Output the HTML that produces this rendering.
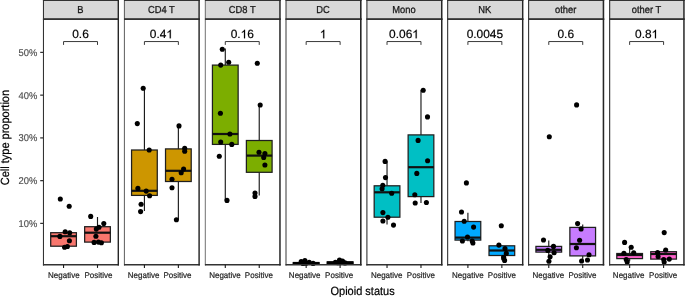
<!DOCTYPE html><html><head><meta charset="utf-8"><style>html,body{margin:0;padding:0;background:#fff;overflow:hidden;}svg{display:block;will-change:transform;}text{font-family:"Liberation Sans",sans-serif;text-rendering:geometricPrecision;}</style></head><body>
<svg width="685" height="297" viewBox="0 0 685 297">
<rect x="0" y="0" width="685" height="297" fill="#fff"/>
<line x1="40.2" x2="43.5" y1="223.4" y2="223.4" stroke="#333" stroke-width="1.25"/>
<text transform="translate(37.3 226.8) scale(1 1.05)" font-size="9.4" fill="#4D4D4D" text-anchor="end" stroke="#4D4D4D" stroke-width="0.15">10%</text>
<line x1="40.2" x2="43.5" y1="180.65" y2="180.65" stroke="#333" stroke-width="1.25"/>
<text transform="translate(37.3 184.05) scale(1 1.05)" font-size="9.4" fill="#4D4D4D" text-anchor="end" stroke="#4D4D4D" stroke-width="0.15">20%</text>
<line x1="40.2" x2="43.5" y1="137.9" y2="137.9" stroke="#333" stroke-width="1.25"/>
<text transform="translate(37.3 141.3) scale(1 1.05)" font-size="9.4" fill="#4D4D4D" text-anchor="end" stroke="#4D4D4D" stroke-width="0.15">30%</text>
<line x1="40.2" x2="43.5" y1="95.15" y2="95.15" stroke="#333" stroke-width="1.25"/>
<text transform="translate(37.3 98.55) scale(1 1.05)" font-size="9.4" fill="#4D4D4D" text-anchor="end" stroke="#4D4D4D" stroke-width="0.15">40%</text>
<line x1="40.2" x2="43.5" y1="52.4" y2="52.4" stroke="#333" stroke-width="1.25"/>
<text transform="translate(37.3 55.8) scale(1 1.05)" font-size="9.4" fill="#4D4D4D" text-anchor="end" stroke="#4D4D4D" stroke-width="0.15">50%</text>
<rect x="43.47" y="0.4" width="74.83" height="18.5" fill="#D9D9D9"/>
<text transform="translate(80.44 12.95) scale(1 1.078)" font-size="9.35" fill="#1A1A1A" text-anchor="middle" stroke="#1A1A1A" stroke-width="0.27">B</text>
<rect x="43.5" y="19.4" width="74.68" height="245.4" fill="#fff"/>
<line x1="63.55" x2="63.55" y1="231.3" y2="232.7" stroke="#1a1a1a" stroke-width="1.15"/>
<line x1="63.55" x2="63.55" y1="246.2" y2="247.3" stroke="#1a1a1a" stroke-width="1.15"/>
<rect x="50.7" y="232.7" width="25.7" height="13.5" fill="#F8766D" stroke="#1f1f1f" stroke-width="1.25"/>
<line x1="50.7" x2="76.4" y1="236.2" y2="236.2" stroke="#111" stroke-width="2.2"/>
<line x1="97.5" x2="97.5" y1="217" y2="226.7" stroke="#1a1a1a" stroke-width="1.15"/>
<line x1="97.5" x2="97.5" y1="242.1" y2="242.8" stroke="#1a1a1a" stroke-width="1.15"/>
<rect x="84.65" y="226.7" width="25.7" height="15.4" fill="#F8766D" stroke="#1f1f1f" stroke-width="1.25"/>
<line x1="84.65" x2="110.35" y1="232.7" y2="232.7" stroke="#111" stroke-width="2.2"/>
<circle cx="60.3" cy="199" r="2.55" fill="#000"/>
<circle cx="69.2" cy="206.3" r="2.55" fill="#000"/>
<circle cx="59.9" cy="236.4" r="2.55" fill="#000"/>
<circle cx="65.2" cy="231.7" r="2.55" fill="#000"/>
<circle cx="69.7" cy="232.7" r="2.55" fill="#000"/>
<circle cx="69.4" cy="240.8" r="2.55" fill="#000"/>
<circle cx="64.6" cy="247.3" r="2.55" fill="#000"/>
<circle cx="67.4" cy="246.5" r="2.55" fill="#000"/>
<circle cx="90.7" cy="216.4" r="2.55" fill="#000"/>
<circle cx="103.8" cy="223.6" r="2.55" fill="#000"/>
<circle cx="99" cy="227.3" r="2.55" fill="#000"/>
<circle cx="96.3" cy="229.1" r="2.55" fill="#000"/>
<circle cx="95.9" cy="236.3" r="2.55" fill="#000"/>
<circle cx="94.1" cy="242.4" r="2.55" fill="#000"/>
<circle cx="98.4" cy="242.1" r="2.55" fill="#000"/>
<circle cx="101.4" cy="242.8" r="2.55" fill="#000"/>
<path d="M63.55 44.9V41.55H97.5V44.9" fill="none" stroke="#3a3a3a" stroke-width="1.0"/>
<text x="72.25" y="38.3" font-size="11.9" fill="#000" stroke="#000" stroke-width="0.2">0.6</text>
<line x1="42.94" x2="119" y1="0.4" y2="0.4" stroke="#333" stroke-width="1.2"/>
<line x1="42.94" x2="119" y1="18.9" y2="18.9" stroke="#333" stroke-width="1.2"/>
<line x1="42.94" x2="119" y1="19.4" y2="19.4" stroke="#333" stroke-width="1.2"/>
<line x1="42.94" x2="119" y1="264.8" y2="264.8" stroke="#333" stroke-width="1.4"/>
<line x1="43.47" x2="43.47" y1="-0.2" y2="265.5" stroke="#333" stroke-width="1.07"/>
<line x1="118.3" x2="118.3" y1="-0.2" y2="265.5" stroke="#262626" stroke-width="1.4"/>
<line x1="63.55" x2="63.55" y1="264.8" y2="267.9" stroke="#1a1a1a" stroke-width="1.1"/>
<text transform="translate(63.8 277.5) scale(1 1.04)" font-size="8.0" fill="#262626" text-anchor="middle" stroke="#262626" stroke-width="0.2">Negative</text>
<line x1="97.5" x2="97.5" y1="264.8" y2="267.9" stroke="#1a1a1a" stroke-width="1.1"/>
<text transform="translate(98.4 277.5) scale(1 1.04)" font-size="8.0" fill="#262626" text-anchor="middle" stroke="#262626" stroke-width="0.2">Positive</text>
<rect x="124.4" y="0.4" width="74.7" height="18.5" fill="#D9D9D9"/>
<text transform="translate(161.31 12.95) scale(1 1.078)" font-size="9.35" fill="#1A1A1A" text-anchor="middle" stroke="#1A1A1A" stroke-width="0.27">CD4 T</text>
<rect x="124.37" y="19.4" width="74.68" height="245.4" fill="#fff"/>
<line x1="144.42" x2="144.42" y1="88.2" y2="150" stroke="#1a1a1a" stroke-width="1.15"/>
<line x1="144.42" x2="144.42" y1="195.4" y2="211" stroke="#1a1a1a" stroke-width="1.15"/>
<rect x="131.57" y="150" width="25.7" height="45.4" fill="#CD9600" stroke="#1f1f1f" stroke-width="1.25"/>
<line x1="131.57" x2="157.27" y1="190.8" y2="190.8" stroke="#111" stroke-width="2.2"/>
<line x1="178.37" x2="178.37" y1="125.9" y2="148.9" stroke="#1a1a1a" stroke-width="1.15"/>
<line x1="178.37" x2="178.37" y1="181.5" y2="219.8" stroke="#1a1a1a" stroke-width="1.15"/>
<rect x="165.52" y="148.9" width="25.7" height="32.6" fill="#CD9600" stroke="#1f1f1f" stroke-width="1.25"/>
<line x1="165.52" x2="191.22" y1="170.8" y2="170.8" stroke="#111" stroke-width="2.2"/>
<circle cx="143.2" cy="88.2" r="2.55" fill="#000"/>
<circle cx="137.3" cy="123.6" r="2.55" fill="#000"/>
<circle cx="149.2" cy="150" r="2.55" fill="#000"/>
<circle cx="137.9" cy="188.4" r="2.55" fill="#000"/>
<circle cx="146.2" cy="191.1" r="2.55" fill="#000"/>
<circle cx="149.6" cy="195.8" r="2.55" fill="#000"/>
<circle cx="141.1" cy="204.3" r="2.55" fill="#000"/>
<circle cx="140.6" cy="211.6" r="2.55" fill="#000"/>
<circle cx="179" cy="125.9" r="2.55" fill="#000"/>
<circle cx="184.7" cy="148.2" r="2.55" fill="#000"/>
<circle cx="184.7" cy="151.3" r="2.55" fill="#000"/>
<circle cx="183.6" cy="169.1" r="2.55" fill="#000"/>
<circle cx="181.2" cy="172.8" r="2.55" fill="#000"/>
<circle cx="172" cy="179.3" r="2.55" fill="#000"/>
<circle cx="172" cy="187.7" r="2.55" fill="#000"/>
<circle cx="176.4" cy="219.8" r="2.55" fill="#000"/>
<path d="M144.42 44.9V41.55H178.37V44.9" fill="none" stroke="#3a3a3a" stroke-width="1.0"/>
<text x="149.81" y="38.3" font-size="11.9" fill="#000" stroke="#000" stroke-width="0.2">0.4</text><path transform="translate(166.35 38.3) scale(0.005811 -0.005811)" d="M763 0L583 0L583 1147Q518 1085 412 1023Q306 961 222 930L222 1104Q373 1175 486 1276Q599 1377 646 1466L763 1466Z" fill="#000" stroke="#000" stroke-width="34.42"/>
<line x1="124" x2="199.82" y1="0.4" y2="0.4" stroke="#333" stroke-width="1.2"/>
<line x1="124" x2="199.82" y1="18.9" y2="18.9" stroke="#333" stroke-width="1.2"/>
<line x1="124" x2="199.82" y1="19.4" y2="19.4" stroke="#333" stroke-width="1.2"/>
<line x1="124" x2="199.82" y1="264.8" y2="264.8" stroke="#333" stroke-width="1.4"/>
<line x1="124.4" x2="124.4" y1="-0.2" y2="265.5" stroke="#333" stroke-width="0.8"/>
<line x1="199.1" x2="199.1" y1="-0.2" y2="265.5" stroke="#262626" stroke-width="1.45"/>
<line x1="144.42" x2="144.42" y1="264.8" y2="267.9" stroke="#1a1a1a" stroke-width="1.1"/>
<text transform="translate(143.6 277.5) scale(1 1.04)" font-size="8.0" fill="#262626" text-anchor="middle" stroke="#262626" stroke-width="0.2">Negative</text>
<line x1="178.37" x2="178.37" y1="264.8" y2="267.9" stroke="#1a1a1a" stroke-width="1.1"/>
<text transform="translate(177.5 277.5) scale(1 1.04)" font-size="8.0" fill="#262626" text-anchor="middle" stroke="#262626" stroke-width="0.2">Positive</text>
<rect x="205.3" y="0.4" width="74.67" height="18.5" fill="#D9D9D9"/>
<text transform="translate(242.18 12.95) scale(1 1.078)" font-size="9.35" fill="#1A1A1A" text-anchor="middle" stroke="#1A1A1A" stroke-width="0.27">CD8 T</text>
<rect x="205.24" y="19.4" width="74.68" height="245.4" fill="#fff"/>
<line x1="225.29" x2="225.29" y1="48.6" y2="65.1" stroke="#1a1a1a" stroke-width="1.15"/>
<line x1="225.29" x2="225.29" y1="144.4" y2="200.4" stroke="#1a1a1a" stroke-width="1.15"/>
<rect x="212.44" y="65.1" width="25.7" height="79.3" fill="#7CAE00" stroke="#1f1f1f" stroke-width="1.25"/>
<line x1="212.44" x2="238.14" y1="134" y2="134" stroke="#111" stroke-width="2.2"/>
<line x1="259.24" x2="259.24" y1="105" y2="140.5" stroke="#1a1a1a" stroke-width="1.15"/>
<line x1="259.24" x2="259.24" y1="172.3" y2="195.5" stroke="#1a1a1a" stroke-width="1.15"/>
<rect x="246.39" y="140.5" width="25.7" height="31.8" fill="#7CAE00" stroke="#1f1f1f" stroke-width="1.25"/>
<line x1="246.39" x2="272.09" y1="155.6" y2="155.6" stroke="#111" stroke-width="2.2"/>
<circle cx="222.3" cy="49.3" r="2.55" fill="#000"/>
<circle cx="220.7" cy="65.1" r="2.55" fill="#000"/>
<circle cx="228.7" cy="62.2" r="2.55" fill="#000"/>
<circle cx="220.4" cy="113.3" r="2.55" fill="#000"/>
<circle cx="229.9" cy="134" r="2.55" fill="#000"/>
<circle cx="220.7" cy="142" r="2.55" fill="#000"/>
<circle cx="231.8" cy="144.4" r="2.55" fill="#000"/>
<circle cx="219.3" cy="156.2" r="2.55" fill="#000"/>
<circle cx="227" cy="200.4" r="2.55" fill="#000"/>
<circle cx="257.3" cy="63.3" r="2.55" fill="#000"/>
<circle cx="260.2" cy="105" r="2.55" fill="#000"/>
<circle cx="259" cy="152.3" r="2.55" fill="#000"/>
<circle cx="264.9" cy="153.5" r="2.55" fill="#000"/>
<circle cx="263.7" cy="157.5" r="2.55" fill="#000"/>
<circle cx="264.9" cy="165" r="2.55" fill="#000"/>
<circle cx="255" cy="193.1" r="2.55" fill="#000"/>
<circle cx="255" cy="196.4" r="2.55" fill="#000"/>
<path d="M225.29 44.9V41.55H259.24V44.9" fill="none" stroke="#3a3a3a" stroke-width="1.0"/>
<text x="230.68" y="38.3" font-size="11.9" fill="#000" stroke="#000" stroke-width="0.2">0.</text><path transform="translate(240.61 38.3) scale(0.005811 -0.005811)" d="M763 0L583 0L583 1147Q518 1085 412 1023Q306 961 222 930L222 1104Q373 1175 486 1276Q599 1377 646 1466L763 1466Z" fill="#000" stroke="#000" stroke-width="34.42"/><text x="247.22" y="38.3" font-size="11.9" fill="#000" stroke="#000" stroke-width="0.2">6</text>
<line x1="204.95" x2="280.72" y1="0.4" y2="0.4" stroke="#333" stroke-width="1.2"/>
<line x1="204.95" x2="280.72" y1="18.9" y2="18.9" stroke="#333" stroke-width="1.2"/>
<line x1="204.95" x2="280.72" y1="19.4" y2="19.4" stroke="#333" stroke-width="1.2"/>
<line x1="204.95" x2="280.72" y1="264.8" y2="264.8" stroke="#333" stroke-width="1.4"/>
<line x1="205.3" x2="205.3" y1="-0.2" y2="265.5" stroke="#333" stroke-width="0.7"/>
<line x1="279.97" x2="279.97" y1="-0.2" y2="265.5" stroke="#262626" stroke-width="1.5"/>
<line x1="225.29" x2="225.29" y1="264.8" y2="267.9" stroke="#1a1a1a" stroke-width="1.1"/>
<text transform="translate(224.95 277.5) scale(1 1.04)" font-size="8.0" fill="#262626" text-anchor="middle" stroke="#262626" stroke-width="0.2">Negative</text>
<line x1="259.24" x2="259.24" y1="264.8" y2="267.9" stroke="#1a1a1a" stroke-width="1.1"/>
<text transform="translate(258.85 277.5) scale(1 1.04)" font-size="8.0" fill="#262626" text-anchor="middle" stroke="#262626" stroke-width="0.2">Positive</text>
<rect x="286" y="0.4" width="74.8" height="18.5" fill="#D9D9D9"/>
<text transform="translate(323.05 12.95) scale(1 1.078)" font-size="9.35" fill="#1A1A1A" text-anchor="middle" stroke="#1A1A1A" stroke-width="0.27">DC</text>
<rect x="286.11" y="19.4" width="74.68" height="245.4" fill="#fff"/>
<line x1="306.16" x2="306.16" y1="262.3" y2="262.8" stroke="#1a1a1a" stroke-width="1.15"/>
<line x1="306.16" x2="306.16" y1="264.1" y2="264.6" stroke="#1a1a1a" stroke-width="1.15"/>
<rect x="293.31" y="262.8" width="25.7" height="1.3" fill="#00BE67" stroke="#1f1f1f" stroke-width="1.25"/>
<line x1="293.31" x2="319.01" y1="263.4" y2="263.4" stroke="#111" stroke-width="2.2"/>
<line x1="340.11" x2="340.11" y1="261.3" y2="262" stroke="#1a1a1a" stroke-width="1.15"/>
<line x1="340.11" x2="340.11" y1="263.9" y2="264.6" stroke="#1a1a1a" stroke-width="1.15"/>
<rect x="327.26" y="262" width="25.7" height="1.9" fill="#00BE67" stroke="#1f1f1f" stroke-width="1.25"/>
<line x1="327.26" x2="352.96" y1="262.9" y2="262.9" stroke="#111" stroke-width="2.2"/>
<rect x="292.81" y="261.9" width="26.7" height="2.6" fill="#000"/>
<rect x="326.76" y="261.3" width="26.7" height="3.2" fill="#000"/>
<circle cx="301.2" cy="261.6" r="2.55" fill="#000"/>
<circle cx="304.9" cy="260.6" r="2.55" fill="#000"/>
<circle cx="309.2" cy="262.4" r="2.55" fill="#000"/>
<circle cx="313.1" cy="263.4" r="2.55" fill="#000"/>
<circle cx="306" cy="263.3" r="2.55" fill="#000"/>
<circle cx="303" cy="263.5" r="2.55" fill="#000"/>
<circle cx="335.4" cy="262.4" r="2.55" fill="#000"/>
<circle cx="339.5" cy="260" r="2.55" fill="#000"/>
<circle cx="342.5" cy="261.1" r="2.55" fill="#000"/>
<circle cx="338" cy="262.8" r="2.55" fill="#000"/>
<circle cx="345" cy="262.9" r="2.55" fill="#000"/>
<path d="M306.16 44.9V41.55H340.11V44.9" fill="none" stroke="#3a3a3a" stroke-width="1.0"/>
<path transform="translate(319.82 38.3) scale(0.005811 -0.005811)" d="M763 0L583 0L583 1147Q518 1085 412 1023Q306 961 222 930L222 1104Q373 1175 486 1276Q599 1377 646 1466L763 1466Z" fill="#000" stroke="#000" stroke-width="34.42"/>
<line x1="285.51" x2="361.6" y1="0.4" y2="0.4" stroke="#333" stroke-width="1.2"/>
<line x1="285.51" x2="361.6" y1="18.9" y2="18.9" stroke="#333" stroke-width="1.2"/>
<line x1="285.51" x2="361.6" y1="19.4" y2="19.4" stroke="#333" stroke-width="1.2"/>
<line x1="285.51" x2="361.6" y1="264.8" y2="264.8" stroke="#333" stroke-width="1.4"/>
<line x1="286" x2="286" y1="-0.2" y2="265.5" stroke="#333" stroke-width="0.97"/>
<line x1="360.8" x2="360.8" y1="-0.2" y2="265.5" stroke="#262626" stroke-width="1.6"/>
<line x1="306.16" x2="306.16" y1="264.8" y2="267.9" stroke="#1a1a1a" stroke-width="1.1"/>
<text transform="translate(304.65 277.5) scale(1 1.04)" font-size="8.0" fill="#262626" text-anchor="middle" stroke="#262626" stroke-width="0.2">Negative</text>
<line x1="340.11" x2="340.11" y1="264.8" y2="267.9" stroke="#1a1a1a" stroke-width="1.1"/>
<text transform="translate(339.1 277.5) scale(1 1.04)" font-size="8.0" fill="#262626" text-anchor="middle" stroke="#262626" stroke-width="0.2">Positive</text>
<rect x="366.9" y="0.4" width="74.85" height="18.5" fill="#D9D9D9"/>
<text transform="translate(403.92 12.95) scale(1 1.078)" font-size="9.35" fill="#1A1A1A" text-anchor="middle" stroke="#1A1A1A" stroke-width="0.27">Mono</text>
<rect x="366.98" y="19.4" width="74.68" height="245.4" fill="#fff"/>
<line x1="387.03" x2="387.03" y1="161.3" y2="185.8" stroke="#1a1a1a" stroke-width="1.15"/>
<line x1="387.03" x2="387.03" y1="217.2" y2="224.5" stroke="#1a1a1a" stroke-width="1.15"/>
<rect x="374.18" y="185.8" width="25.7" height="31.4" fill="#00BFC4" stroke="#1f1f1f" stroke-width="1.25"/>
<line x1="374.18" x2="399.88" y1="192.3" y2="192.3" stroke="#111" stroke-width="2.2"/>
<line x1="420.98" x2="420.98" y1="90.2" y2="134.9" stroke="#1a1a1a" stroke-width="1.15"/>
<line x1="420.98" x2="420.98" y1="196.6" y2="202.9" stroke="#1a1a1a" stroke-width="1.15"/>
<rect x="408.13" y="134.9" width="25.7" height="61.7" fill="#00BFC4" stroke="#1f1f1f" stroke-width="1.25"/>
<line x1="408.13" x2="433.83" y1="167.2" y2="167.2" stroke="#111" stroke-width="2.2"/>
<circle cx="385.1" cy="161.4" r="2.55" fill="#000"/>
<circle cx="385.5" cy="177.6" r="2.55" fill="#000"/>
<circle cx="382.8" cy="185.3" r="2.55" fill="#000"/>
<circle cx="382.1" cy="188.8" r="2.55" fill="#000"/>
<circle cx="391.7" cy="193.2" r="2.55" fill="#000"/>
<circle cx="382.9" cy="212.6" r="2.55" fill="#000"/>
<circle cx="387.9" cy="217.2" r="2.55" fill="#000"/>
<circle cx="382.9" cy="221" r="2.55" fill="#000"/>
<circle cx="393.5" cy="225.1" r="2.55" fill="#000"/>
<circle cx="423.2" cy="90.2" r="2.55" fill="#000"/>
<circle cx="427.5" cy="116.9" r="2.55" fill="#000"/>
<circle cx="418.1" cy="140.4" r="2.55" fill="#000"/>
<circle cx="427.6" cy="160.8" r="2.55" fill="#000"/>
<circle cx="416.8" cy="173.4" r="2.55" fill="#000"/>
<circle cx="414.8" cy="194.7" r="2.55" fill="#000"/>
<circle cx="415.2" cy="203" r="2.55" fill="#000"/>
<circle cx="426.4" cy="202.5" r="2.55" fill="#000"/>
<path d="M387.03 44.9V41.55H420.98V44.9" fill="none" stroke="#3a3a3a" stroke-width="1.0"/>
<text x="389.11" y="38.3" font-size="11.9" fill="#000" stroke="#000" stroke-width="0.2">0.06</text><path transform="translate(412.27 38.3) scale(0.005811 -0.005811)" d="M763 0L583 0L583 1147Q518 1085 412 1023Q306 961 222 930L222 1104Q373 1175 486 1276Q599 1377 646 1466L763 1466Z" fill="#000" stroke="#000" stroke-width="34.42"/>
<line x1="366.35" x2="442.5" y1="0.4" y2="0.4" stroke="#333" stroke-width="1.2"/>
<line x1="366.35" x2="442.5" y1="18.9" y2="18.9" stroke="#333" stroke-width="1.2"/>
<line x1="366.35" x2="442.5" y1="19.4" y2="19.4" stroke="#333" stroke-width="1.2"/>
<line x1="366.35" x2="442.5" y1="264.8" y2="264.8" stroke="#333" stroke-width="1.4"/>
<line x1="366.9" x2="366.9" y1="-0.2" y2="265.5" stroke="#333" stroke-width="1.1"/>
<line x1="441.75" x2="441.75" y1="-0.2" y2="265.5" stroke="#262626" stroke-width="1.5"/>
<line x1="387.03" x2="387.03" y1="264.8" y2="267.9" stroke="#1a1a1a" stroke-width="1.1"/>
<text transform="translate(386.7 277.5) scale(1 1.04)" font-size="8.0" fill="#262626" text-anchor="middle" stroke="#262626" stroke-width="0.2">Negative</text>
<line x1="420.98" x2="420.98" y1="264.8" y2="267.9" stroke="#1a1a1a" stroke-width="1.1"/>
<text transform="translate(420.85 277.5) scale(1 1.04)" font-size="8.0" fill="#262626" text-anchor="middle" stroke="#262626" stroke-width="0.2">Positive</text>
<rect x="447.65" y="0.4" width="75.05" height="18.5" fill="#D9D9D9"/>
<text transform="translate(484.79 12.95) scale(1 1.078)" font-size="9.35" fill="#1A1A1A" text-anchor="middle" stroke="#1A1A1A" stroke-width="0.27">NK</text>
<rect x="447.85" y="19.4" width="74.68" height="245.4" fill="#fff"/>
<line x1="467.9" x2="467.9" y1="212.7" y2="221.5" stroke="#1a1a1a" stroke-width="1.15"/>
<line x1="467.9" x2="467.9" y1="240.1" y2="241.3" stroke="#1a1a1a" stroke-width="1.15"/>
<rect x="455.05" y="221.5" width="25.7" height="18.6" fill="#00A9FF" stroke="#1f1f1f" stroke-width="1.25"/>
<line x1="455.05" x2="480.75" y1="237.6" y2="237.6" stroke="#111" stroke-width="2.2"/>
<line x1="501.85" x2="501.85" y1="245.3" y2="245.8" stroke="#1a1a1a" stroke-width="1.15"/>
<line x1="501.85" x2="501.85" y1="255.5" y2="260.3" stroke="#1a1a1a" stroke-width="1.15"/>
<rect x="489" y="245.8" width="25.7" height="9.7" fill="#00A9FF" stroke="#1f1f1f" stroke-width="1.25"/>
<line x1="489" x2="514.7" y1="250.5" y2="250.5" stroke="#111" stroke-width="2.2"/>
<circle cx="466.4" cy="182.9" r="2.55" fill="#000"/>
<circle cx="461.5" cy="212" r="2.55" fill="#000"/>
<circle cx="464.2" cy="221.2" r="2.55" fill="#000"/>
<circle cx="473.6" cy="227.1" r="2.55" fill="#000"/>
<circle cx="467.5" cy="237" r="2.55" fill="#000"/>
<circle cx="462.4" cy="241" r="2.55" fill="#000"/>
<circle cx="472.2" cy="241" r="2.55" fill="#000"/>
<circle cx="472.9" cy="243" r="2.55" fill="#000"/>
<circle cx="501.3" cy="225.7" r="2.55" fill="#000"/>
<circle cx="498.9" cy="245.1" r="2.55" fill="#000"/>
<circle cx="505" cy="248.6" r="2.55" fill="#000"/>
<circle cx="506.3" cy="253.4" r="2.55" fill="#000"/>
<circle cx="503.7" cy="257.4" r="2.55" fill="#000"/>
<circle cx="504.6" cy="260.4" r="2.55" fill="#000"/>
<path d="M467.9 44.9V41.55H501.85V44.9" fill="none" stroke="#3a3a3a" stroke-width="1.0"/>
<text x="466.67" y="38.3" font-size="11.9" fill="#000" stroke="#000" stroke-width="0.2">0.0045</text>
<line x1="447.1" x2="523.43" y1="0.4" y2="0.4" stroke="#333" stroke-width="1.2"/>
<line x1="447.1" x2="523.43" y1="18.9" y2="18.9" stroke="#333" stroke-width="1.2"/>
<line x1="447.1" x2="523.43" y1="19.4" y2="19.4" stroke="#333" stroke-width="1.2"/>
<line x1="447.1" x2="523.43" y1="264.8" y2="264.8" stroke="#333" stroke-width="1.4"/>
<line x1="447.65" x2="447.65" y1="-0.2" y2="265.5" stroke="#333" stroke-width="1.1"/>
<line x1="522.7" x2="522.7" y1="-0.2" y2="265.5" stroke="#262626" stroke-width="1.45"/>
<line x1="467.9" x2="467.9" y1="264.8" y2="267.9" stroke="#1a1a1a" stroke-width="1.1"/>
<text transform="translate(467.85 277.5) scale(1 1.04)" font-size="8.0" fill="#262626" text-anchor="middle" stroke="#262626" stroke-width="0.2">Negative</text>
<line x1="501.85" x2="501.85" y1="264.8" y2="267.9" stroke="#1a1a1a" stroke-width="1.1"/>
<text transform="translate(501.85 277.5) scale(1 1.04)" font-size="8.0" fill="#262626" text-anchor="middle" stroke="#262626" stroke-width="0.2">Positive</text>
<rect x="528.6" y="0.4" width="74.85" height="18.5" fill="#D9D9D9"/>
<text transform="translate(565.66 12.95) scale(1 1.078)" font-size="9.35" fill="#1A1A1A" text-anchor="middle" stroke="#1A1A1A" stroke-width="0.27">other</text>
<rect x="528.72" y="19.4" width="74.68" height="245.4" fill="#fff"/>
<line x1="548.77" x2="548.77" y1="240.6" y2="246.4" stroke="#1a1a1a" stroke-width="1.15"/>
<line x1="548.77" x2="548.77" y1="252.1" y2="256.3" stroke="#1a1a1a" stroke-width="1.15"/>
<rect x="535.92" y="246.4" width="25.7" height="5.7" fill="#C77CFF" stroke="#1f1f1f" stroke-width="1.25"/>
<line x1="535.92" x2="561.62" y1="249.8" y2="249.8" stroke="#111" stroke-width="2.2"/>
<line x1="582.72" x2="582.72" y1="224.4" y2="227.4" stroke="#1a1a1a" stroke-width="1.15"/>
<line x1="582.72" x2="582.72" y1="255.9" y2="260.8" stroke="#1a1a1a" stroke-width="1.15"/>
<rect x="569.87" y="227.4" width="25.7" height="28.5" fill="#C77CFF" stroke="#1f1f1f" stroke-width="1.25"/>
<line x1="569.87" x2="595.57" y1="244" y2="244" stroke="#111" stroke-width="2.2"/>
<circle cx="549.3" cy="136.8" r="2.55" fill="#000"/>
<circle cx="543.5" cy="240" r="2.55" fill="#000"/>
<circle cx="553.5" cy="246.4" r="2.55" fill="#000"/>
<circle cx="554.1" cy="252.7" r="2.55" fill="#000"/>
<circle cx="547.8" cy="250.4" r="2.55" fill="#000"/>
<circle cx="550.1" cy="256.7" r="2.55" fill="#000"/>
<circle cx="548.9" cy="261.3" r="2.55" fill="#000"/>
<circle cx="576.6" cy="104.9" r="2.55" fill="#000"/>
<circle cx="577.6" cy="223.6" r="2.55" fill="#000"/>
<circle cx="581.1" cy="228.9" r="2.55" fill="#000"/>
<circle cx="579.6" cy="240.3" r="2.55" fill="#000"/>
<circle cx="576.4" cy="247.7" r="2.55" fill="#000"/>
<circle cx="589" cy="254.7" r="2.55" fill="#000"/>
<circle cx="587.5" cy="260" r="2.55" fill="#000"/>
<circle cx="581.6" cy="261" r="2.55" fill="#000"/>
<path d="M548.77 44.9V41.55H582.72V44.9" fill="none" stroke="#3a3a3a" stroke-width="1.0"/>
<text x="557.47" y="38.3" font-size="11.9" fill="#000" stroke="#000" stroke-width="0.2">0.6</text>
<line x1="528.05" x2="604.23" y1="0.4" y2="0.4" stroke="#333" stroke-width="1.2"/>
<line x1="528.05" x2="604.23" y1="18.9" y2="18.9" stroke="#333" stroke-width="1.2"/>
<line x1="528.05" x2="604.23" y1="19.4" y2="19.4" stroke="#333" stroke-width="1.2"/>
<line x1="528.05" x2="604.23" y1="264.8" y2="264.8" stroke="#333" stroke-width="1.4"/>
<line x1="528.6" x2="528.6" y1="-0.2" y2="265.5" stroke="#333" stroke-width="1.1"/>
<line x1="603.45" x2="603.45" y1="-0.2" y2="265.5" stroke="#262626" stroke-width="1.55"/>
<line x1="548.77" x2="548.77" y1="264.8" y2="267.9" stroke="#1a1a1a" stroke-width="1.1"/>
<text transform="translate(548.3 277.5) scale(1 1.04)" font-size="8.0" fill="#262626" text-anchor="middle" stroke="#262626" stroke-width="0.2">Negative</text>
<line x1="582.72" x2="582.72" y1="264.8" y2="267.9" stroke="#1a1a1a" stroke-width="1.1"/>
<text transform="translate(582.4 277.5) scale(1 1.04)" font-size="8.0" fill="#262626" text-anchor="middle" stroke="#262626" stroke-width="0.2">Positive</text>
<rect x="609.65" y="0.4" width="74.3" height="18.5" fill="#D9D9D9"/>
<text transform="translate(646.53 12.95) scale(1 1.078)" font-size="9.35" fill="#1A1A1A" text-anchor="middle" stroke="#1A1A1A" stroke-width="0.27">other T</text>
<rect x="609.59" y="19.4" width="74.68" height="245.4" fill="#fff"/>
<line x1="629.64" x2="629.64" y1="247.9" y2="253.5" stroke="#1a1a1a" stroke-width="1.15"/>
<line x1="629.64" x2="629.64" y1="258.6" y2="261.3" stroke="#1a1a1a" stroke-width="1.15"/>
<rect x="616.79" y="253.5" width="25.7" height="5.1" fill="#FF61CC" stroke="#1f1f1f" stroke-width="1.25"/>
<line x1="616.79" x2="642.49" y1="255" y2="255" stroke="#111" stroke-width="2.2"/>
<line x1="663.59" x2="663.59" y1="250" y2="251.7" stroke="#1a1a1a" stroke-width="1.15"/>
<line x1="663.59" x2="663.59" y1="259.1" y2="261.8" stroke="#1a1a1a" stroke-width="1.15"/>
<rect x="650.74" y="251.7" width="25.7" height="7.4" fill="#FF61CC" stroke="#1f1f1f" stroke-width="1.25"/>
<line x1="650.74" x2="676.44" y1="254" y2="254" stroke="#111" stroke-width="2.2"/>
<circle cx="624.6" cy="242.4" r="2.55" fill="#000"/>
<circle cx="631.2" cy="247.2" r="2.55" fill="#000"/>
<circle cx="623.9" cy="253.3" r="2.55" fill="#000"/>
<circle cx="633.7" cy="252.8" r="2.55" fill="#000"/>
<circle cx="626.2" cy="259.6" r="2.55" fill="#000"/>
<circle cx="627.2" cy="262.1" r="2.55" fill="#000"/>
<circle cx="664.2" cy="232.6" r="2.55" fill="#000"/>
<circle cx="665.7" cy="250" r="2.55" fill="#000"/>
<circle cx="657.6" cy="252.5" r="2.55" fill="#000"/>
<circle cx="658.1" cy="256.5" r="2.55" fill="#000"/>
<circle cx="663.7" cy="259.6" r="2.55" fill="#000"/>
<circle cx="669.3" cy="259.1" r="2.55" fill="#000"/>
<circle cx="664.2" cy="262.1" r="2.55" fill="#000"/>
<path d="M629.64 44.9V41.55H663.59V44.9" fill="none" stroke="#3a3a3a" stroke-width="1.0"/>
<text x="635.03" y="38.3" font-size="11.9" fill="#000" stroke="#000" stroke-width="0.2">0.8</text><path transform="translate(651.57 38.3) scale(0.005811 -0.005811)" d="M763 0L583 0L583 1147Q518 1085 412 1023Q306 961 222 930L222 1104Q373 1175 486 1276Q599 1377 646 1466L763 1466Z" fill="#000" stroke="#000" stroke-width="34.42"/>
<line x1="609.07" x2="684.7" y1="0.4" y2="0.4" stroke="#333" stroke-width="1.2"/>
<line x1="609.07" x2="684.7" y1="18.9" y2="18.9" stroke="#333" stroke-width="1.2"/>
<line x1="609.07" x2="684.7" y1="19.4" y2="19.4" stroke="#333" stroke-width="1.2"/>
<line x1="609.07" x2="684.7" y1="264.8" y2="264.8" stroke="#333" stroke-width="1.4"/>
<line x1="609.65" x2="609.65" y1="-0.2" y2="265.5" stroke="#333" stroke-width="1.15"/>
<line x1="683.95" x2="683.95" y1="-0.2" y2="265.5" stroke="#262626" stroke-width="1.5"/>
<line x1="629.64" x2="629.64" y1="264.8" y2="267.9" stroke="#1a1a1a" stroke-width="1.1"/>
<text transform="translate(628.65 277.5) scale(1 1.04)" font-size="8.0" fill="#262626" text-anchor="middle" stroke="#262626" stroke-width="0.2">Negative</text>
<line x1="663.59" x2="663.59" y1="264.8" y2="267.9" stroke="#1a1a1a" stroke-width="1.1"/>
<text transform="translate(663.1 277.5) scale(1 1.04)" font-size="8.0" fill="#262626" text-anchor="middle" stroke="#262626" stroke-width="0.2">Positive</text>
<text transform="translate(362.6 294.6) scale(1 1.08)" font-size="11" fill="#000" text-anchor="middle" stroke="#000" stroke-width="0.2">Opioid status</text>
<text transform="translate(8.5 137.6) rotate(-90) scale(1 1.08)" font-size="11" fill="#000" stroke="#000" stroke-width="0.2" text-anchor="middle">Cell type proportion</text>
</svg></body></html>
